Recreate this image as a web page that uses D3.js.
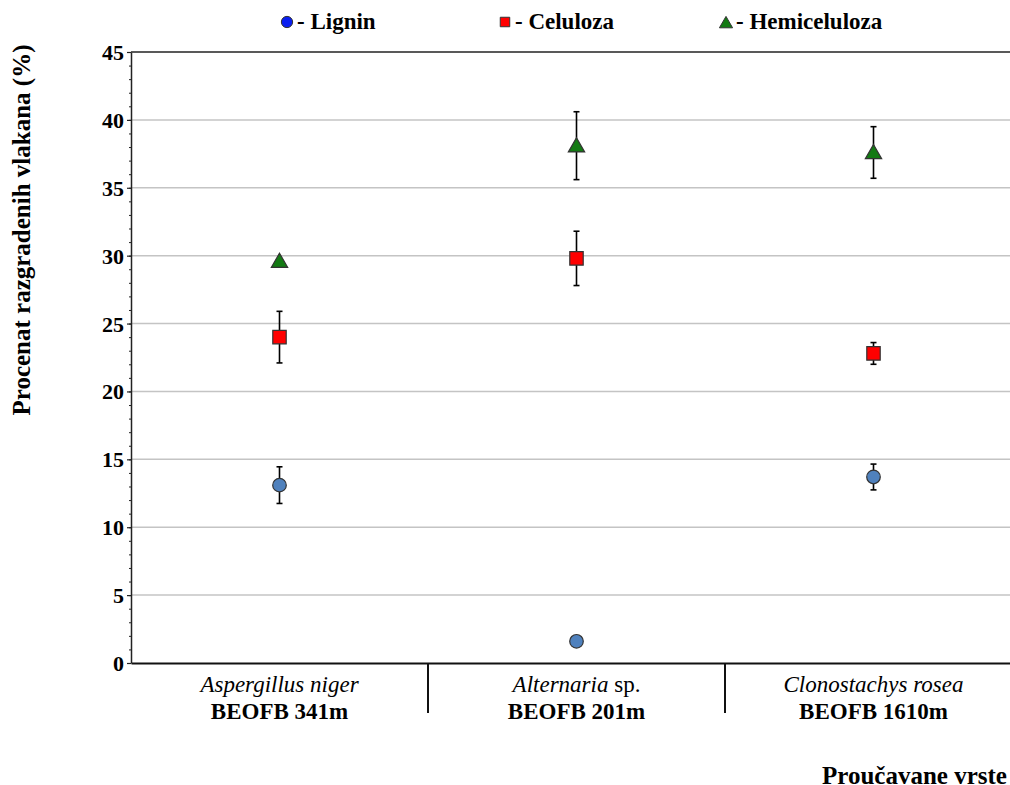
<!DOCTYPE html>
<html>
<head>
<meta charset="utf-8">
<script src="https://cdn.jsdelivr.net/npm/d3@7"></script>
<style>
  body { margin: 0; background: #fff; }
  svg { display: block; font-family: "Liberation Serif", "Times New Roman", serif; }
</style>
</head>
<body>
<svg id="chart" width="1010" height="785"></svg>
<script>
// ---- data ----
const categoriesItalic = ["Aspergillus niger", "Alternaria", "Clonostachys rosea"];
const categoriesSuffix = ["", " sp.", ""];
const categoriesCode = ["BEOFB 341m", "BEOFB 201m", "BEOFB 1610m"];
const seriesNames = ["Lignin", "Celuloza", "Hemiceluloza"];
const ligninValues = [13.1, 1.6, 13.7];
const ligninErrors = [1.35, 0, 0.95];
const celulozaValues = [24.0, 29.8, 22.8];
const celulozaErrors = [1.9, 2.0, 0.8];
const hemiValues = [29.6, 38.1, 37.6];
const hemiErrors = [0, 2.5, 1.9];
const yTicks = [0, 5, 10, 15, 20, 25, 30, 35, 40, 45];
const yTitle = "Procenat razgradenih vlakana (%)";
const xTitle = "Proučavane vrste";

// ---- layout ----
const svg = d3.select("#chart");
const plotLeft = 131, plotTop = 52, plotBottom = 663, plotRight = 1022;

const x = d3.scaleBand().domain(categoriesCode).range([plotLeft, plotRight]).padding(0);
const y = d3.scaleLinear().domain([0, 45]).range([plotBottom, plotTop]);

// gridlines
svg.append("g").selectAll("line")
  .data(yTicks.filter(t => t > 0 && t < 45))
  .join("line")
  .attr("x1", plotLeft).attr("x2", plotRight)
  .attr("y1", d => y(d)).attr("y2", d => y(d))
  .attr("stroke", "#c4c4c4").attr("stroke-width", 1.5);

// top frame line
svg.append("line").attr("x1", plotLeft).attr("x2", plotRight)
  .attr("y1", y(45)).attr("y2", y(45))
  .attr("stroke", "#222").attr("stroke-width", 1.5);

// minor ticks
svg.append("g").attr("transform", `translate(${plotLeft},0)`)
  .call(d3.axisLeft(y).ticks(45).tickSize(2).tickFormat(""))
  .call(g => g.select(".domain").remove())
  .call(g => g.selectAll("line").attr("stroke", "#222"));

// y axis
const yAxis = svg.append("g").attr("transform", `translate(${plotLeft},0)`)
  .call(d3.axisLeft(y).tickValues(yTicks).tickSize(4).tickPadding(3).tickSizeOuter(0));
yAxis.select(".domain").attr("stroke", "#222").attr("stroke-width", 1.5);
yAxis.selectAll(".tick line").attr("stroke", "#222").attr("stroke-width", 1.2);
yAxis.selectAll(".tick text")
  .attr("font-family", "Liberation Serif, serif")
  .attr("font-size", 22).attr("font-weight", "bold").attr("fill", "#000")
  .attr("dy", "0.34em");

// x axis line
const xAxis = svg.append("g").attr("transform", `translate(0,${plotBottom})`)
  .call(d3.axisBottom(x).tickSize(0).tickFormat(""));
xAxis.select(".domain").attr("stroke", "#111").attr("stroke-width", 2);

// category dividers
svg.append("g").selectAll("line")
  .data(categoriesCode.slice(1))
  .join("line")
  .attr("x1", d => x(d)).attr("x2", d => x(d))
  .attr("y1", plotBottom).attr("y2", plotBottom + 50)
  .attr("stroke", "#111").attr("stroke-width", 2);

// category labels
const lab = svg.append("g");
categoriesCode.forEach((c, i) => {
  const cx = x(c) + x.bandwidth() / 2;
  const t1 = lab.append("text").attr("x", cx).attr("y", 692)
    .attr("text-anchor", "middle").attr("font-size", 23);
  t1.append("tspan").attr("font-style", "italic").text(categoriesItalic[i]);
  if (categoriesSuffix[i]) t1.append("tspan").text(categoriesSuffix[i]);
  lab.append("text").attr("x", cx).attr("y", 719)
    .attr("text-anchor", "middle").attr("font-size", 23).attr("font-weight", "bold")
    .text(c);
});

// axis titles
svg.append("text")
  .attr("transform", `translate(30,230) rotate(-90)`)
  .attr("text-anchor", "middle").attr("font-size", 25).attr("font-weight", "bold")
  .text(yTitle);
svg.append("text").attr("x", 822).attr("y", 784)
  .attr("font-size", 25).attr("font-weight", "bold").text(xTitle);

// series
const series = [
  { name: seriesNames[0], values: ligninValues, errors: ligninErrors, shape: d3.symbolCircle, size: 145, fill: "#4f81bd", legendFill: "#0a1ef0" },
  { name: seriesNames[1], values: celulozaValues, errors: celulozaErrors, shape: d3.symbolSquare, size: 180, fill: "#ff0000", legendFill: "#ff0000" },
  { name: seriesNames[2], values: hemiValues, errors: hemiErrors, shape: d3.symbolTriangle, size: 115, fill: "#137a13", legendFill: "#137a13" }
];

const marks = svg.append("g");
series.forEach(s => {
  const pts = categoriesCode.map((c, i) => ({ cx: x(c) + x.bandwidth() / 2, v: s.values[i], e: s.errors[i] }));
  const eb = marks.append("g").selectAll("g").data(pts.filter(p => p.e > 0)).join("g")
    .attr("stroke", "#000").attr("stroke-width", 1.6);
  eb.append("line").attr("x1", p => p.cx).attr("x2", p => p.cx)
    .attr("y1", p => y(p.v + p.e)).attr("y2", p => y(p.v - p.e));
  eb.append("line").attr("x1", p => p.cx - 3).attr("x2", p => p.cx + 3)
    .attr("y1", p => y(p.v + p.e)).attr("y2", p => y(p.v + p.e));
  eb.append("line").attr("x1", p => p.cx - 3).attr("x2", p => p.cx + 3)
    .attr("y1", p => y(p.v - p.e)).attr("y2", p => y(p.v - p.e));
  const sym = d3.symbol().type(s.shape).size(s.size);
  marks.append("g").selectAll("path").data(pts).join("path")
    .attr("transform", p => `translate(${p.cx},${y(p.v) + (s.shape === d3.symbolTriangle ? 1.5 : 0)})`)
    .attr("d", sym)
    .attr("fill", s.fill).attr("stroke", "#333").attr("stroke-width", 1.2);
});

// legend
const legendX = [287, 505, 726];
const leg = svg.append("g");
series.forEach((s, i) => {
  const sizes = [100, 90, 75];
  leg.append("path")
    .attr("transform", `translate(${legendX[i]},${s.shape === d3.symbolTriangle ? 24 : 22})`)
    .attr("d", d3.symbol().type(s.shape).size(sizes[i]))
    .attr("fill", s.legendFill).attr("stroke", "#333").attr("stroke-width", 1);
  leg.append("text").attr("x", legendX[i] + 10).attr("y", 29)
    .attr("font-size", 23).attr("font-weight", "bold").text("- " + s.name);
});
</script>
</body>
</html>
